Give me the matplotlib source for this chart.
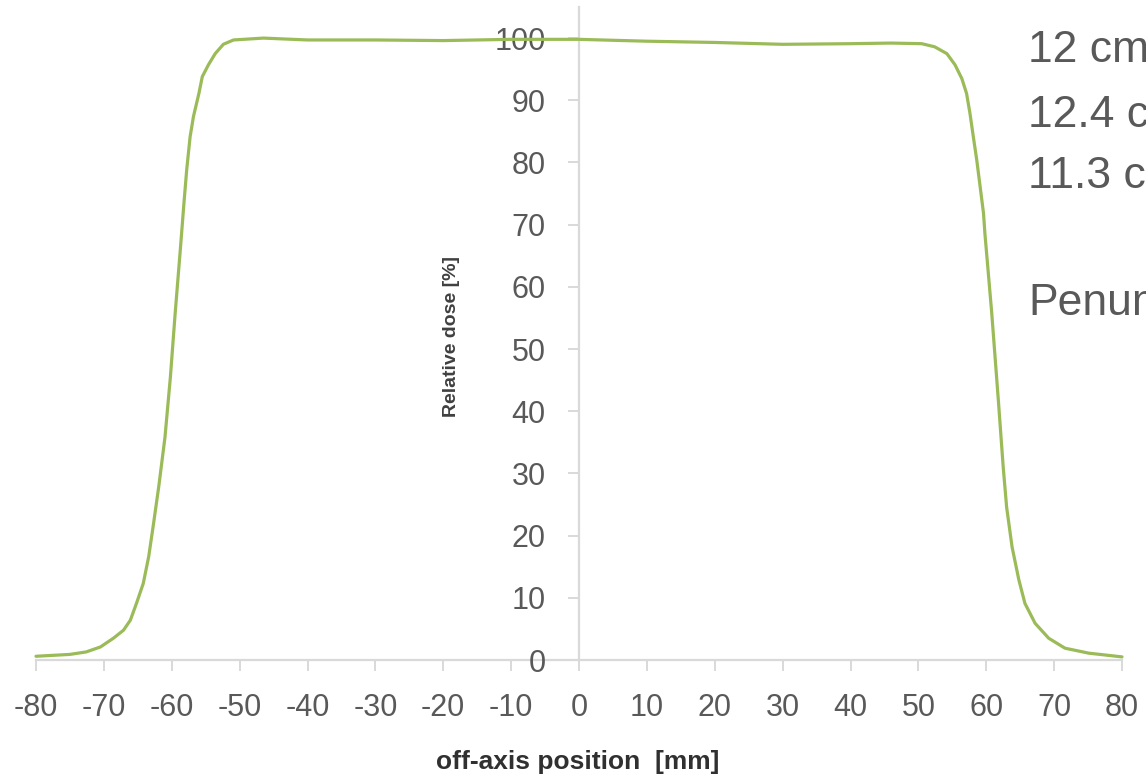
import matplotlib.pyplot as plt

plt.rcParams["font.family"] = ["Liberation Sans", "DejaVu Sans"]
plt.rcParams["axes.unicode_minus"] = False

# off-axis profile
pos_mm = [-80, -75, -72.6, -70.5, -68.6, -67.1, -66.1, -65.2, -64.2, -63.4,
          -62.7, -61.9, -61.0, -60.2, -59.5, -58.7, -58.2, -57.8, -57.3,
          -56.8, -56.0, -55.5, -54.6, -53.6, -52.4, -50.9, -46.5, -40, -30,
          -20, -10, 0, 10, 20, 30, 40, 46, 50.5, 52.4, 54.2, 55.4, 56.4,
          57.1, 57.6, 58.1, 58.6, 59.1, 59.6, 59.8, 60.8, 61.8, 62.5, 63.0,
          63.8, 64.8, 65.7, 67.2, 69.2, 71.6, 75.1, 80]
dose_pct = [0.6, 0.9, 1.3, 2.1, 3.5, 4.8, 6.4, 9.1, 12.3, 16.6,
            21.8, 28.0, 35.8, 45.5, 55.7, 66.5, 73.5, 78.8, 84.1,
            87.4, 91.1, 93.8, 95.7, 97.5, 99.0, 99.7, 100.0, 99.7, 99.7,
            99.6, 99.8, 99.8, 99.5, 99.3, 99.0, 99.1, 99.2, 99.1, 98.6, 97.5,
            95.7, 93.5, 91.1, 87.9, 84.1, 80.4, 76.1, 71.8, 68.6, 55.9, 41.5,
            31.0, 24.6, 18.2, 12.9, 9.1, 5.9, 3.5, 1.9, 1.1, 0.5]

x_ticks = list(range(-80, 81, 10))
y_ticks = list(range(0, 101, 10))

notes = ["12 cm", "12.4 cm", "11.3 cm", "Penumbra"]
note_y = [62, 127, 188, 315]  # baselines in pixels from top

W, H = 1146, 781
fig = plt.figure(figsize=(W / 100, H / 100), dpi=100)
ax = fig.add_axes([36 / W, 1 - 660 / H, (1122 - 36) / W, (660 - 7) / H])

ax.plot(pos_mm, dose_pct, color="#9bbb59", lw=2.3, solid_joinstyle="round",
        solid_capstyle="round", clip_on=False)

ax.set_xlim(-80, 80)
ax.set_ylim(0, 105)

for s in ("top", "right"):
    ax.spines[s].set_visible(False)
ax.spines["left"].set_position(("data", 0))
ax.spines["bottom"].set_position(("data", 0))
for s in ("left", "bottom"):
    ax.spines[s].set_color("#d9d9d9")
    ax.spines[s].set_linewidth(1.6)
    ax.spines[s].set_zorder(1)

ax.set_xticks(x_ticks)
ax.set_xticklabels([str(v) for v in x_ticks])
ax.set_yticks(y_ticks)
ax.set_yticklabels([str(v) for v in y_ticks])
ax.tick_params(axis="both", direction="out", length=8, width=1.4,
               color="#d9d9d9", labelcolor="#595959", labelsize=22)
ax.tick_params(axis="x", pad=16)
ax.tick_params(axis="y", pad=16)

fig.text(452 / W, 1 - 336 / H, "Relative dose [%]", rotation=90,
         ha="center", va="center", fontsize=14, fontweight="bold",
         color="#404040")
fig.text(578 / W, 1 - 762 / H, "off-axis position  [mm]", ha="center",
         va="center", fontsize=19, fontweight="bold", color="#303030")

# these notes run past the right edge, as in the source slide
for txt, yb in zip(notes, note_y):
    fig.text(1028 / W, 1 - yb / H, txt, ha="left", va="baseline",
             fontsize=32, color="#595959")

fig.savefig("out.png", dpi=100)
